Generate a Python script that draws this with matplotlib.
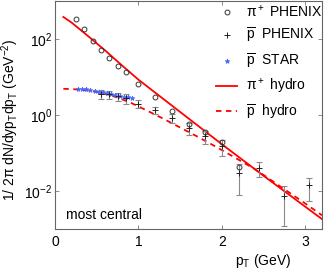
import matplotlib
matplotlib.use("Agg")
import matplotlib.pyplot as plt
import numpy as np

plt.rcParams['font.family'] = ['Liberation Sans', 'DejaVu Sans']
plt.rcParams['mathtext.fontset'] = 'custom'
plt.rcParams['mathtext.rm'] = 'Liberation Sans'
plt.rcParams['mathtext.it'] = 'Liberation Sans'

# pi+ PHENIX
pi_pt = [0.25, 0.35, 0.45, 0.55, 0.65, 0.75, 0.85, 1.0, 1.2, 1.4, 1.6, 1.8, 2.0, 2.2]
pi_y = [335, 183, 88, 52, 31, 20, 13.3, 6.7, 3.0, 1.25, 0.59, 0.35, 0.195, 0.044]

# pbar PHENIX
pb_pt = [0.55, 0.65, 0.75, 0.85, 1.0, 1.2, 1.4, 1.6, 1.8, 2.0, 2.2, 2.45, 2.75, 3.05]
pb_y = [3.6, 3.5, 3.1, 2.75, 2.0, 1.35, 0.85, 0.46, 0.28, 0.15, 0.030, 0.041, 0.0074, 0.014]
pb_err = [1.0, 0.9, 0.8, 0.75, 0.45, 0.3, 0.22, 0.16, 0.11, 0.065, 0.022, 0.018, 0.0062, 0.0085]

# pbar STAR
st_pt = [0.275, 0.325, 0.375, 0.425, 0.475, 0.525, 0.575, 0.625, 0.675, 0.725, 0.775, 0.825, 0.875, 0.925]
st_y = [4.9, 4.8, 4.7, 4.5, 4.3, 4.15, 4.0, 3.8, 3.6, 3.4, 3.2, 3.0, 2.9, 2.75]

# hydro curves (log10 values)
hpi_pt = [0.1, 0.2, 0.4, 0.6, 0.8, 1.0, 1.5, 2.0, 2.5, 3.2]
hpi_log = [2.58, 2.43, 2.07, 1.70, 1.31, 0.93, 0.08, -0.77, -1.60, -2.74]
hpb_pt = [0.1, 0.3, 0.5, 0.7, 0.9, 1.1, 1.3, 1.5, 1.7, 1.9, 2.1, 2.4, 2.7, 3.0, 3.2]
hpb_log = [0.69, 0.67, 0.61, 0.50, 0.33, 0.12, -0.10, -0.33, -0.56, -0.80, -1.05, -1.43, -1.88, -2.33, -2.64]

fig = plt.figure(figsize=(3.27, 2.73), dpi=100)
ax = fig.add_axes([55/327, 1 - 229/273, 267/327, 228/273])

l_pi, = ax.plot(hpi_pt, 10**np.array(hpi_log), '-', color='#ff0000', lw=1.3, zorder=2)
l_pb, = ax.plot(hpb_pt, 10**np.array(hpb_log), '--', color='#ff0000', lw=1.3, dashes=(3, 2.5), zorder=2)

ax.errorbar(pb_pt, pb_y, yerr=pb_err, fmt='none', ecolor='#8a8a8a', elinewidth=0.8,
            capsize=2.5, capthick=0.8, zorder=3)
h_pi, = ax.plot(pi_pt, pi_y, 'o', mfc='none', mec='#333333', ms=3.5, mew=0.7, zorder=4)
h_pb, = ax.plot(pb_pt, pb_y, '+', color='#222222', ms=4, mew=0.7, zorder=4)
h_st, = ax.plot(st_pt, st_y, '*', color='#4466ff', ms=3.5, mew=0.5, zorder=3)

ax.set_yscale('log')
ax.set_xlim(0, 3.2)
ax.set_ylim(1e-3, 1e3)
ax.set_xticks([0, 1, 2, 3])
ax.set_yticks([1e-2, 1e0, 1e2])
ax.set_yticklabels([r'$10^{-2}$', r'$10^{0}$', r'$10^{2}$'])
ax.minorticks_off()
ax.tick_params(direction='in', length=3, width=0.6, color='#777777', labelsize=10,
               top=True, right=True, pad=4)
ax.tick_params(axis='y', pad=2)
for s in ax.spines.values():
    s.set_color('#666666')
    s.set_linewidth(0.8)

ax.set_xlabel(r'p$_\mathrm{T}$ (GeV)', fontsize=10)
ax.xaxis.set_label_coords(0.78, -0.1)
ax.set_ylabel(r'1/ 2$\pi$ dN/dyp$_\mathrm{T}$dp$_\mathrm{T}$ (GeV$^{-2}$)', fontsize=10)
ax.yaxis.set_label_coords(-0.126, 0.48)

ax.text(0.04, 0.03, 'most central', transform=ax.transAxes, fontsize=10, ha='left', va='bottom')

handles = [h_pi, h_pb, h_st, l_pi, l_pb]
labels = [r'$\pi^+$ PHENIX', r'$\overline{\mathrm{p}}$  PHENIX', r'$\overline{\mathrm{p}}$  STAR',
          r'$\pi^+$ hydro', r'$\overline{\mathrm{p}}$  hydro']
ax.legend(handles, labels, loc='upper right', bbox_to_anchor=(1.012, 1.0), frameon=False, fontsize=10,
          handlelength=1.5, handletextpad=0.6, labelspacing=0.45,
          borderaxespad=0.0, borderpad=0.2)

fig.savefig('out.png', dpi=100)
